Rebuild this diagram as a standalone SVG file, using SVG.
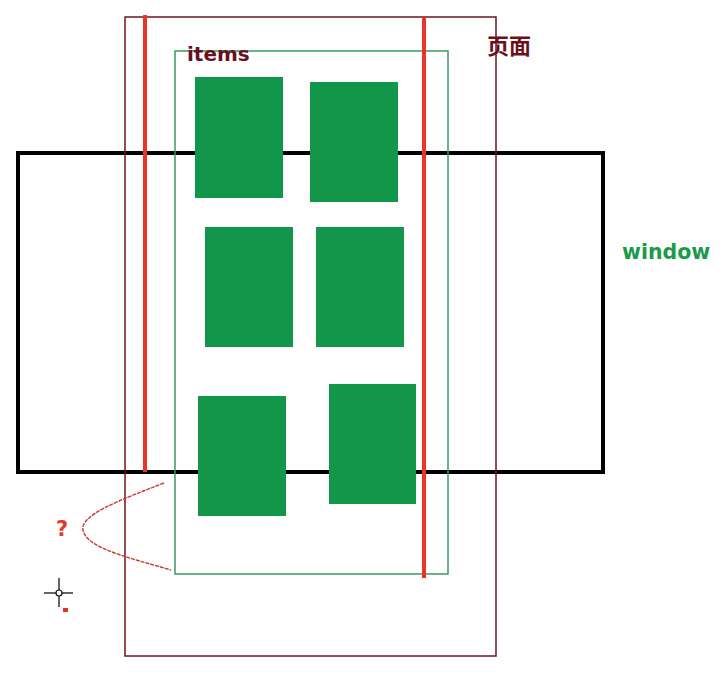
<svg xmlns="http://www.w3.org/2000/svg" width="724" height="673" viewBox="0 0 724 673">
<style>
.block{fill:#12964a}
.redline{stroke:#e8342a;stroke-width:4;fill:none}
.lbl{font-family:"DejaVu Sans","Noto Sans CJK SC",sans-serif;font-weight:bold}
.cjk{font-family:"Noto Sans CJK SC",sans-serif;font-weight:bold}
</style>
<rect width="724" height="673" fill="#fefefe"/>
<g id="window">
<rect x="18" y="153" width="585" height="319" fill="none" stroke="#000" stroke-width="4"/>
<text class="lbl" x="622" y="259" font-size="20.5" fill="#1a9a4a">window</text>
</g>
<g id="page">
<rect x="125" y="17" width="371" height="639" fill="none" stroke="#6e1520" stroke-width="1.5"/>
<text class="cjk" x="487" y="54" font-size="22" fill="#6a1018">页面</text>
</g>
<g id="items">
<rect x="175" y="51" width="273" height="523" fill="none" stroke="#3a9a62" stroke-width="1.5"/>
<text class="lbl" x="187" y="61" font-size="20" fill="#6a1020">items</text>
</g>
<g id="blocks">
<rect class="block" x="195" y="77" width="88" height="121"/>
<rect class="block" x="310" y="82" width="88" height="120"/>
<rect class="block" x="205" y="227" width="88" height="120"/>
<rect class="block" x="316" y="227" width="88" height="120"/>
<rect class="block" x="198" y="396" width="88" height="120"/>
<rect class="block" x="329" y="384" width="87" height="120"/>
</g>
<g id="connectors">
<line class="redline" x1="145" y1="15" x2="145" y2="472"/>
<line class="redline" x1="424" y1="17" x2="424" y2="578"/>
<path d="M164 483 C 120 500, 80 515, 83 530 C 86 548, 130 558, 171 570" fill="none" stroke="#c83a32" stroke-width="1.4" stroke-dasharray="4 1"/>
</g>
<g id="question">
<text class="lbl" x="56" y="536" font-size="21" fill="#e03a2a">?</text>
</g>
<g id="cursor">
<line x1="44" y1="593" x2="73" y2="593" stroke="#111" stroke-width="1.3"/>
<line x1="59" y1="578" x2="59" y2="607" stroke="#111" stroke-width="1.3"/>
<circle cx="59" cy="593" r="3" fill="#fff" stroke="#111" stroke-width="1.2"/>
<rect x="63" y="608" width="5" height="4" fill="#e8302a"/>
</g>
</svg>
